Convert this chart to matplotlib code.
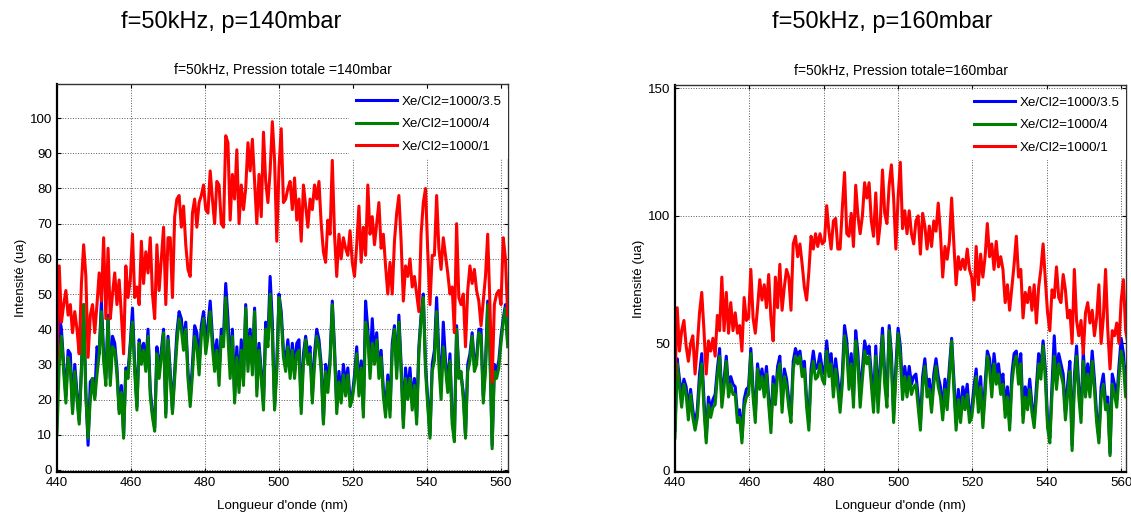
import matplotlib
matplotlib.use("Agg")
import matplotlib.pyplot as plt
import numpy as np

plt.rcParams["font.family"] = ["Liberation Sans", "DejaVu Sans"]

# wavelength grid (nm)
WL_START = 440.0
WL_STEP = 0.6

labels = ["Xe/Cl2=1000/3.5", "Xe/Cl2=1000/4", "Xe/Cl2=1000/1"]
colors = ["#0000ff", "#008000", "#ff0000"]

# p = 140 mbar
blue_140 = [
    21, 44, 40, 30, 21, 34, 33, 17, 30, 22, 14, 29, 47, 22, 7, 25, 26, 21, 35, 33,
    48, 33, 26, 44, 26, 38, 36, 29, 17, 24, 10, 29, 28, 36, 46, 30, 18, 37, 33, 36,
    30, 40, 23, 16, 12, 35, 28, 34, 40, 16, 38, 28, 17, 28, 39, 45, 43, 36, 42, 28,
    20, 30, 41, 39, 30, 41, 45, 38, 41, 48, 38, 31, 37, 27, 40, 38, 53, 43, 29, 40,
    21, 35, 24, 37, 26, 47, 31, 40, 30, 46, 23, 36, 28, 19, 42, 37, 55, 42, 18, 30,
    50, 45, 34, 31, 37, 28, 36, 29, 36, 37, 18, 33, 38, 33, 35, 21, 33, 40, 37, 30,
    14, 30, 25, 32, 48, 35, 18, 28, 21, 30, 24, 29, 20, 21, 27, 35, 23, 31, 17, 48,
    40, 29, 43, 32, 39, 28, 34, 23, 17, 27, 17, 36, 41, 28, 44, 30, 14, 29, 22, 29,
    19, 26, 15, 35, 44, 50, 30, 20, 10, 30, 34, 49, 33, 23, 42, 31, 24, 33, 15, 9,
    41, 28, 27, 22, 10, 30, 33, 39, 30, 32, 40, 40, 21, 30, 48, 35, 7, 30, 28, 31,
    38, 43, 47, 36,
]
green_140 = [
    10, 30, 38, 28, 19, 32, 29, 16, 28, 20, 13, 28, 47, 21, 9, 20, 26, 20, 27, 33,
    45, 31, 24, 43, 24, 35, 34, 27, 16, 22, 9, 28, 26, 35, 42, 28, 17, 36, 30, 34,
    28, 38, 21, 15, 11, 33, 26, 32, 39, 15, 37, 26, 16, 26, 36, 43, 40, 34, 40, 26,
    18, 27, 38, 35, 27, 38, 43, 33, 38, 45, 35, 28, 34, 24, 38, 35, 49, 38, 26, 38,
    19, 32, 22, 34, 24, 46, 28, 38, 27, 45, 21, 34, 26, 17, 40, 35, 50, 38, 17, 28,
    49, 43, 32, 28, 35, 26, 34, 26, 33, 34, 16, 30, 37, 30, 33, 19, 30, 38, 35, 28,
    13, 28, 22, 30, 47, 33, 16, 25, 19, 27, 21, 27, 18, 20, 25, 33, 21, 29, 15, 42,
    38, 26, 36, 30, 37, 26, 32, 21, 15, 25, 15, 34, 40, 26, 42, 28, 12, 26, 20, 26,
    17, 24, 13, 33, 43, 49, 28, 18, 9, 28, 31, 45, 30, 20, 35, 29, 22, 31, 13, 8,
    40, 26, 28, 20, 9, 28, 31, 38, 28, 30, 39, 38, 19, 28, 47, 33, 6, 28, 26, 29,
    36, 42, 46, 35,
]
red_140 = [
    31, 58, 42, 47, 51, 44, 47, 39, 45, 40, 33, 53, 64, 55, 32, 44, 47, 39, 47, 56,
    48, 66, 43, 63, 43, 50, 56, 47, 54, 44, 33, 58, 49, 54, 67, 49, 52, 47, 65, 53,
    62, 56, 66, 50, 43, 64, 51, 60, 69, 47, 66, 66, 49, 72, 77, 78, 69, 75, 64, 57,
    55, 73, 77, 69, 76, 78, 81, 74, 73, 85, 77, 70, 82, 81, 70, 69, 95, 93, 71, 84,
    77, 91, 70, 81, 74, 80, 93, 85, 94, 82, 70, 84, 72, 96, 82, 76, 85, 99, 88, 65,
    86, 97, 76, 77, 80, 82, 74, 83, 71, 77, 65, 81, 75, 69, 77, 74, 81, 77, 82, 70,
    62, 59, 71, 67, 88, 67, 55, 67, 60, 66, 63, 61, 68, 59, 55, 64, 75, 59, 69, 61,
    81, 67, 72, 64, 70, 76, 63, 67, 58, 50, 59, 50, 65, 73, 78, 65, 48, 58, 55, 60,
    52, 55, 50, 45, 67, 76, 80, 62, 47, 61, 61, 78, 63, 57, 66, 61, 56, 50, 52, 39,
    70, 49, 47, 50, 35, 51, 58, 53, 57, 51, 48, 41, 48, 55, 67, 47, 25, 47, 50, 51,
    47, 66, 60, 44,
]

# p = 160 mbar
blue_160 = [
    16, 44, 36, 30, 36, 33, 24, 32, 24, 18, 24, 38, 46, 28, 13, 29, 24, 28, 30, 40,
    48, 28, 36, 45, 32, 37, 34, 33, 22, 24, 13, 28, 32, 33, 48, 32, 22, 42, 35, 40,
    32, 41, 29, 18, 37, 29, 41, 45, 26, 40, 36, 28, 22, 43, 48, 45, 47, 40, 43, 28,
    19, 40, 47, 40, 41, 46, 40, 38, 51, 41, 46, 33, 44, 36, 27, 38, 57, 51, 36, 46,
    29, 55, 46, 29, 40, 51, 46, 49, 38, 27, 49, 27, 42, 56, 38, 29, 57, 46, 22, 41,
    56, 49, 32, 41, 33, 41, 34, 37, 38, 29, 19, 37, 44, 33, 36, 26, 38, 44, 37, 33,
    23, 36, 28, 41, 52, 36, 19, 32, 22, 33, 28, 34, 22, 24, 33, 40, 26, 37, 20, 34,
    47, 44, 33, 46, 38, 42, 34, 38, 24, 33, 19, 38, 46, 47, 38, 46, 22, 33, 27, 36,
    26, 20, 33, 46, 40, 51, 40, 20, 13, 34, 53, 36, 46, 42, 38, 23, 34, 43, 10, 37,
    49, 33, 22, 47, 33, 42, 33, 47, 36, 22, 13, 33, 38, 27, 29, 7, 38, 34, 28, 41,
    52, 46, 33, 44,
]
green_160 = [
    13, 42, 33, 25, 34, 30, 20, 30, 21, 16, 21, 34, 42, 24, 11, 26, 21, 25, 26, 37,
    45, 25, 33, 43, 29, 34, 30, 30, 19, 21, 11, 25, 29, 30, 46, 29, 19, 40, 32, 37,
    29, 38, 26, 15, 34, 26, 38, 42, 23, 37, 33, 25, 19, 40, 45, 42, 45, 37, 40, 25,
    16, 37, 43, 36, 37, 42, 36, 34, 47, 37, 42, 29, 40, 32, 23, 34, 53, 47, 32, 42,
    25, 51, 42, 25, 36, 47, 42, 45, 34, 23, 45, 23, 38, 53, 34, 25, 55, 42, 19, 37,
    54, 45, 28, 37, 29, 37, 30, 33, 34, 25, 16, 33, 41, 29, 32, 23, 34, 41, 33, 29,
    20, 32, 24, 37, 51, 32, 16, 28, 19, 29, 24, 30, 19, 21, 29, 37, 23, 33, 17, 30,
    45, 40, 29, 42, 34, 38, 30, 34, 21, 29, 16, 34, 42, 45, 34, 42, 19, 29, 24, 32,
    23, 17, 29, 42, 36, 49, 36, 17, 11, 30, 45, 32, 42, 38, 34, 20, 30, 39, 8, 33,
    45, 29, 19, 43, 29, 38, 29, 43, 32, 19, 11, 29, 34, 24, 26, 6, 34, 30, 25, 37,
    47, 42, 29, 40,
]
red_160 = [
    36, 64, 47, 55, 59, 49, 43, 50, 53, 38, 49, 62, 70, 55, 38, 51, 47, 52, 45, 61,
    55, 76, 55, 70, 54, 66, 55, 62, 54, 57, 47, 68, 59, 60, 79, 60, 54, 64, 75, 67,
    73, 64, 77, 60, 51, 76, 64, 81, 63, 72, 79, 76, 63, 89, 92, 84, 89, 81, 72, 67,
    78, 92, 87, 93, 88, 93, 89, 90, 104, 94, 87, 98, 99, 87, 87, 103, 117, 93, 92, 101,
    88, 112, 100, 93, 100, 113, 107, 113, 98, 92, 109, 89, 97, 118, 101, 97, 112, 120, 107, 87,
    107, 121, 95, 102, 93, 102, 93, 89, 98, 100, 85, 101, 96, 87, 96, 88, 98, 94, 105, 93,
    76, 88, 83, 90, 107, 89, 73, 84, 79, 83, 79, 87, 79, 76, 67, 88, 73, 85, 76, 84,
    97, 84, 89, 79, 90, 80, 84, 79, 66, 73, 63, 72, 81, 92, 76, 79, 60, 70, 66, 72,
    63, 73, 58, 72, 79, 89, 75, 62, 55, 71, 68, 80, 68, 66, 77, 71, 60, 63, 50, 79,
    59, 53, 59, 46, 62, 66, 58, 63, 53, 60, 73, 50, 60, 79, 55, 40, 55, 53, 58, 50,
    67, 75, 55, 50,
]

panels = [
    dict(series=[blue_140, green_140, red_140],
         head="f=50kHz, p=140mbar",
         title="f=50kHz, Pression totale =140mbar",
         yticks=[0, 10, 20, 30, 40, 50, 60, 70, 80, 90, 100],
         ylim=(-0.6, 109.7), xlim=(440, 561.9),
         rect=[0.0504, 0.0781, 0.3988, 0.7578], head_x=0.204),
    dict(series=[blue_160, green_160, red_160],
         head="f=50kHz, p=160mbar",
         title="f=50kHz, Pression totale=160mbar",
         yticks=[0, 50, 100, 150],
         ylim=(-0.4, 151.3), xlim=(440, 561.3),
         rect=[0.5968, 0.0781, 0.3988, 0.7559], head_x=0.780),
]

fig = plt.figure(figsize=(11.31, 5.12), dpi=100)

for p in panels:
    ax = fig.add_axes(p["rect"])
    for vals, lab, col in zip(p["series"], labels, colors):
        wl = WL_START + WL_STEP * np.arange(len(vals))
        ax.plot(wl, vals, color=col, lw=2.2, label=lab, solid_joinstyle="round")
    ax.set_xlim(*p["xlim"])
    ax.set_ylim(*p["ylim"])
    ax.set_xticks([440, 460, 480, 500, 520, 540, 560])
    ax.set_yticks(p["yticks"])
    ax.grid(True, color="0.35", ls=":", lw=0.7)
    ax.tick_params(direction="in", length=3, labelsize=9.6, top=True, right=True,
                   colors="black")
    for side in ("left", "bottom"):
        ax.spines[side].set_linewidth(1.6)
    for side in ("top", "right"):
        ax.spines[side].set_linewidth(1.0)
        ax.spines[side].set_color("0.2")
    ax.set_title(p["title"], fontsize=10, pad=7)
    ax.set_xlabel("Longueur d'onde (nm)", fontsize=9.6)
    ax.set_ylabel("Intensité (ua)", fontsize=9.6)
    ax.xaxis.set_label_coords(0.5, -0.072)
    ax.yaxis.set_label_coords(-0.066, 0.5)
    # legend box sits flush in the corner, white, no border (MATLAB style)
    leg = ax.legend(loc="upper right", bbox_to_anchor=(1.0, 0.987),
                    fontsize=9.6, handlelength=3.1, handletextpad=0.3,
                    labelspacing=0.75, borderpad=0.5, borderaxespad=0.0,
                    fancybox=False, framealpha=1.0, edgecolor="white")
    leg.get_frame().set_linewidth(0)
    fig.text(p["head_x"], 0.957, p["head"], fontsize=17, ha="center",
             va="center")

fig.savefig("out.png", dpi=100)
